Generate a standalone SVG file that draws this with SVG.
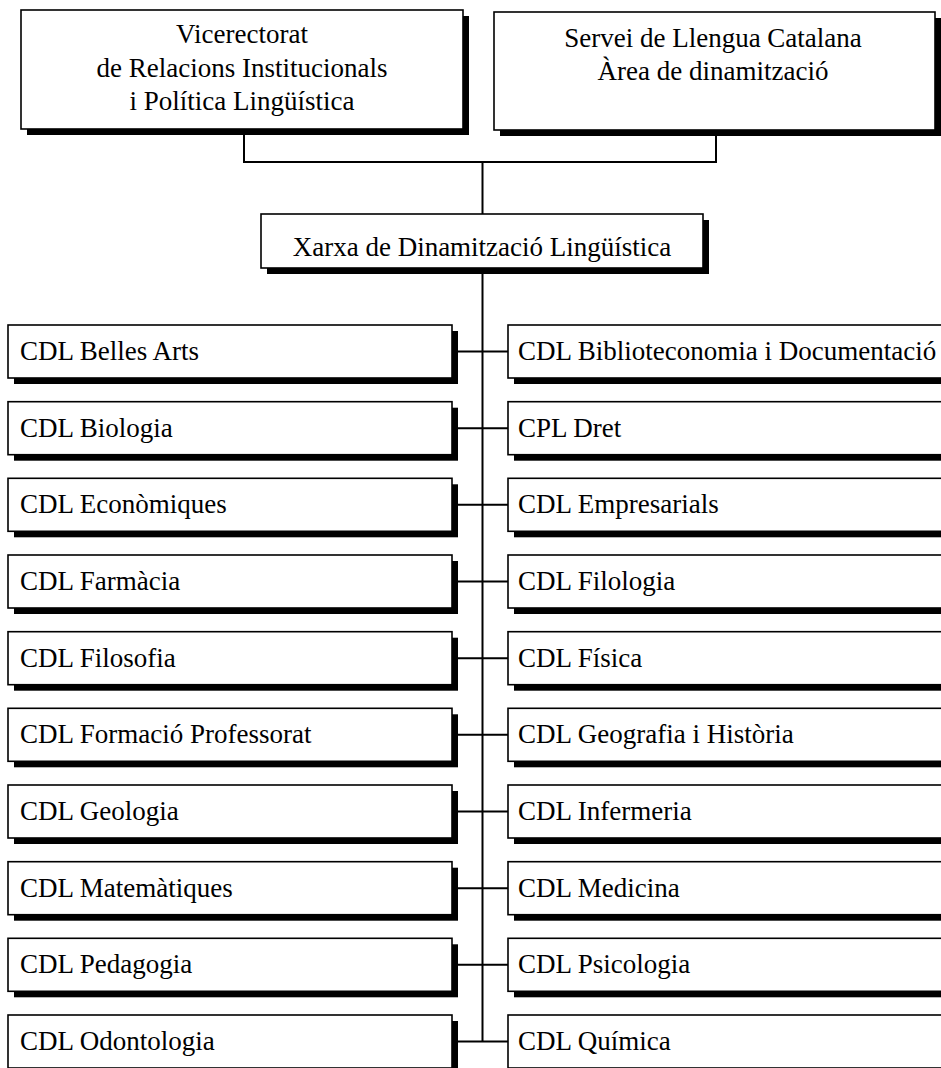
<svg xmlns="http://www.w3.org/2000/svg" width="941" height="1068" viewBox="0 0 941 1068">
<style>
.sh{fill:#000}
.bx{fill:#fff;stroke:#000;stroke-width:1.6}
.t{font-family:"Liberation Serif","Times New Roman",serif;font-size:27px;fill:#000}
.c{text-anchor:middle}
.ln{stroke:#000;stroke-width:2;fill:none}
</style>
<rect width="941" height="1068" fill="#fff"/>
<g id="connectors">
<path class="ln" d="M244,129 V162 H716 V130 M482.5,162 V214 M482.5,268 V1041.5"/>
<path class="ln" d="M452,351.5 H508 M452,428.2 H508 M452,504.8 H508 M452,581.5 H508 M452,658.2 H508 M452,734.8 H508 M452,811.5 H508 M452,888.2 H508 M452,964.8 H508 M452,1041.5 H508"/>
</g>
<g id="vicerectorat">
<rect class="sh" x="27" y="16" width="442" height="119"/>
<rect class="bx" x="21" y="10" width="442" height="119"/>
<text class="t c" x="242" y="43">Vicerectorat</text>
<text class="t c" x="242" y="77">de Relacions Institucionals</text>
<text class="t c" x="242" y="110">i Política Lingüística</text>
</g>
<g id="servei">
<rect class="sh" x="500" y="18" width="441" height="118"/>
<rect class="bx" x="494" y="12" width="441" height="118"/>
<text class="t c" x="713" y="47">Servei de Llengua Catalana</text>
<text class="t c" x="713" y="80">Àrea de dinamització</text>
</g>
<g id="xarxa">
<rect class="sh" x="267" y="220" width="442" height="54"/>
<rect class="bx" x="261" y="214" width="442" height="54"/>
<text class="t c" x="482" y="256">Xarxa de Dinamització Lingüística</text>
</g>
<g id="belles-arts"><rect class="sh" x="14" y="331" width="444" height="53"/><rect class="bx" x="8" y="325" width="444" height="53"/><text class="t" x="20" y="360">CDL Belles Arts</text></g>
<g id="biblioteconomia"><rect class="sh" x="514" y="331" width="444" height="53"/><rect class="bx" x="508" y="325" width="444" height="53"/><text class="t" x="518" y="360">CDL Biblioteconomia i Documentació</text></g>
<g id="biologia"><rect class="sh" x="14" y="407.7" width="444" height="53"/><rect class="bx" x="8" y="401.7" width="444" height="53"/><text class="t" x="20" y="436.7">CDL Biologia</text></g>
<g id="dret"><rect class="sh" x="514" y="407.7" width="444" height="53"/><rect class="bx" x="508" y="401.7" width="444" height="53"/><text class="t" x="518" y="436.7">CPL Dret</text></g>
<g id="economiques"><rect class="sh" x="14" y="484.3" width="444" height="53"/><rect class="bx" x="8" y="478.3" width="444" height="53"/><text class="t" x="20" y="513.3">CDL Econòmiques</text></g>
<g id="empresarials"><rect class="sh" x="514" y="484.3" width="444" height="53"/><rect class="bx" x="508" y="478.3" width="444" height="53"/><text class="t" x="518" y="513.3">CDL Empresarials</text></g>
<g id="farmacia"><rect class="sh" x="14" y="561" width="444" height="53"/><rect class="bx" x="8" y="555" width="444" height="53"/><text class="t" x="20" y="590">CDL Farmàcia</text></g>
<g id="filologia"><rect class="sh" x="514" y="561" width="444" height="53"/><rect class="bx" x="508" y="555" width="444" height="53"/><text class="t" x="518" y="590">CDL Filologia</text></g>
<g id="filosofia"><rect class="sh" x="14" y="637.7" width="444" height="53"/><rect class="bx" x="8" y="631.7" width="444" height="53"/><text class="t" x="20" y="666.7">CDL Filosofia</text></g>
<g id="fisica"><rect class="sh" x="514" y="637.7" width="444" height="53"/><rect class="bx" x="508" y="631.7" width="444" height="53"/><text class="t" x="518" y="666.7">CDL Física</text></g>
<g id="formacio"><rect class="sh" x="14" y="714.3" width="444" height="53"/><rect class="bx" x="8" y="708.3" width="444" height="53"/><text class="t" x="20" y="743.3">CDL Formació Professorat</text></g>
<g id="geografia"><rect class="sh" x="514" y="714.3" width="444" height="53"/><rect class="bx" x="508" y="708.3" width="444" height="53"/><text class="t" x="518" y="743.3">CDL Geografia i Història</text></g>
<g id="geologia"><rect class="sh" x="14" y="791" width="444" height="53"/><rect class="bx" x="8" y="785" width="444" height="53"/><text class="t" x="20" y="820">CDL Geologia</text></g>
<g id="infermeria"><rect class="sh" x="514" y="791" width="444" height="53"/><rect class="bx" x="508" y="785" width="444" height="53"/><text class="t" x="518" y="820">CDL Infermeria</text></g>
<g id="matematiques"><rect class="sh" x="14" y="867.7" width="444" height="53"/><rect class="bx" x="8" y="861.7" width="444" height="53"/><text class="t" x="20" y="896.7">CDL Matemàtiques</text></g>
<g id="medicina"><rect class="sh" x="514" y="867.7" width="444" height="53"/><rect class="bx" x="508" y="861.7" width="444" height="53"/><text class="t" x="518" y="896.7">CDL Medicina</text></g>
<g id="pedagogia"><rect class="sh" x="14" y="944.3" width="444" height="53"/><rect class="bx" x="8" y="938.3" width="444" height="53"/><text class="t" x="20" y="973.3">CDL Pedagogia</text></g>
<g id="psicologia"><rect class="sh" x="514" y="944.3" width="444" height="53"/><rect class="bx" x="508" y="938.3" width="444" height="53"/><text class="t" x="518" y="973.3">CDL Psicologia</text></g>
<g id="odontologia"><rect class="sh" x="14" y="1021" width="444" height="53"/><rect class="bx" x="8" y="1015" width="444" height="53"/><text class="t" x="20" y="1050">CDL Odontologia</text></g>
<g id="quimica"><rect class="sh" x="514" y="1021" width="444" height="53"/><rect class="bx" x="508" y="1015" width="444" height="53"/><text class="t" x="518" y="1050">CDL Química</text></g>
</svg>
